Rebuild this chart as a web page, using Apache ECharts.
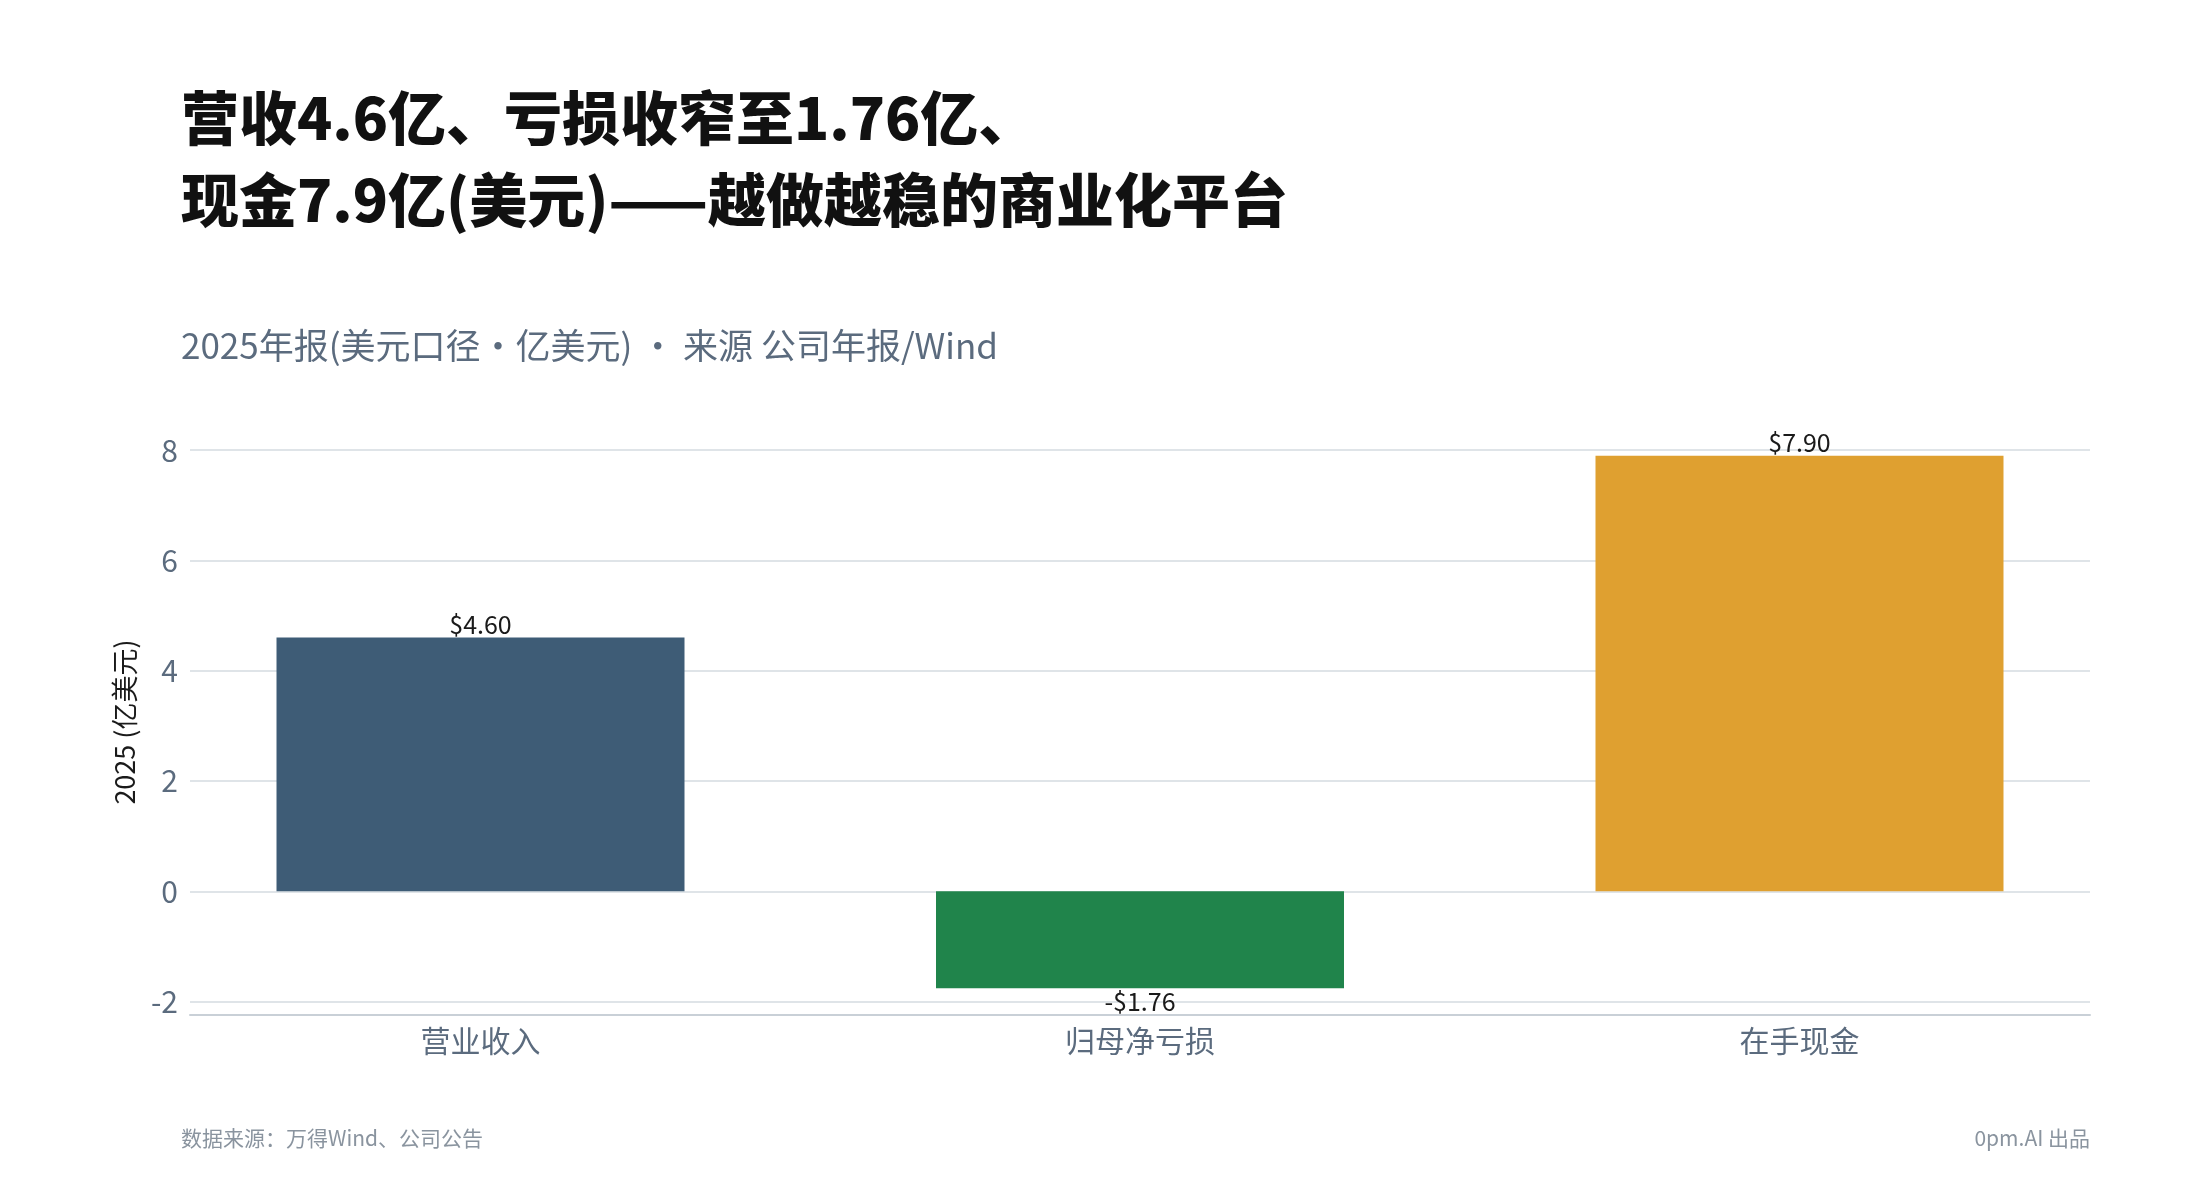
<!DOCTYPE html>
<html>
<head>
<meta charset="utf-8">
<script src="https://cdn.jsdelivr.net/npm/echarts@6/dist/echarts.min.js"></script>
<style>
html,body{margin:0;padding:0;background:#fff;}
#chart{width:2200px;height:1200px;}
</style>
</head>
<body>
<div id="chart"></div>
<script>
// ---- data ----
const categories = ['营业收入', '归母净亏损', '在手现金'];
const values = [4.60, -1.76, 7.90];
const barColors = ['#3E5C76', '#20844B', '#DFA030'];
const yTicks = [-2, 0, 2, 4, 6, 8];

const titleText = '营收4.6亿、亏损收窄至1.76亿、\n现金7.9亿(美元)——越做越稳的商业化平台';
const subtitleText = '2025年报(美元口径・亿美元) ・ 来源 公司年报/Wind';
const yAxisName = '2025 (亿美元)';
const footLeft = '数据来源：万得Wind、公司公告';
const footRight = '0pm.AI 出品';

const FONT = '"Noto Sans CJK SC", "Noto Sans", sans-serif';

const seriesData = values.map((v, i) => ({
  value: [i, v],
  itemStyle: { color: barColors[i] },
  label: { position: v < 0 ? 'bottom' : 'top' }
}));

const chart = echarts.init(document.getElementById('chart'), null, { renderer: 'canvas' });
chart.setOption({
  backgroundColor: '#ffffff',
  animation: false,
  textStyle: { fontFamily: FONT },
  title: [
    {
      text: titleText, left: 176, top: 72,
      textStyle: { fontFamily: FONT, fontSize: 58, fontWeight: 900, color: '#111111', lineHeight: 82 }
    },
    {
      text: subtitleText, left: 176, top: 321,
      textStyle: { fontFamily: FONT, fontSize: 35, fontWeight: 'normal', color: '#5B6B7E', lineHeight: 40 }
    },
    {
      text: footLeft, left: 176, top: 1121,
      textStyle: { fontFamily: FONT, fontSize: 21, fontWeight: 'normal', color: '#8A949F', lineHeight: 24 }
    },
    {
      text: footRight, right: 105, top: 1121,
      textStyle: { fontFamily: FONT, fontSize: 21, fontWeight: 'normal', color: '#8A949F', lineHeight: 24 }
    }
  ],
  grid: { left: 190, right: 110, top: 429, bottom: 185, containLabel: false },
  xAxis: {
    type: 'value',
    min: -0.4405,
    max: 2.4405,
    axisLine: { show: true, onZero: false, lineStyle: { color: '#C9D0D7', width: 2 } },
    axisTick: { show: false },
    splitLine: { show: false },
    axisLabel: {
      customValues: [0, 1, 2],
      formatter: v => categories[Math.round(v)] || '',
      fontFamily: FONT, fontSize: 30, color: '#5B6B7E', margin: 11
    }
  },
  yAxis: {
    type: 'value',
    min: -2.243,
    max: 8.383,
    splitNumber: 5,
    name: yAxisName,
    nameLocation: 'middle',
    nameGap: 52,
    nameTextStyle: { fontFamily: FONT, fontSize: 27, color: '#1a1a1a' },
    axisLine: { show: false },
    axisTick: { show: false },
    axisLabel: {
      showMinLabel: false, showMaxLabel: false,
      formatter: v => (yTicks.indexOf(Math.round(v * 1000) / 1000) >= 0 ? String(v) : ''),
      fontFamily: FONT, fontSize: 30, color: '#5B6B7E', margin: 12
    },
    splitLine: { show: true, showMaxLine: false, lineStyle: { color: '#D5DBE1', width: 1.5 } }
  },
  series: [{
    type: 'bar',
    data: seriesData,
    barWidth: 408,
    label: {
      show: true,
      distance: 1,
      fontFamily: FONT, fontSize: 25, color: '#1a1a1a',
      formatter: p => (p.value[1] < 0 ? '-$' : '$') + Math.abs(p.value[1]).toFixed(2)
    }
  }]
});
</script>
</body>
</html>
